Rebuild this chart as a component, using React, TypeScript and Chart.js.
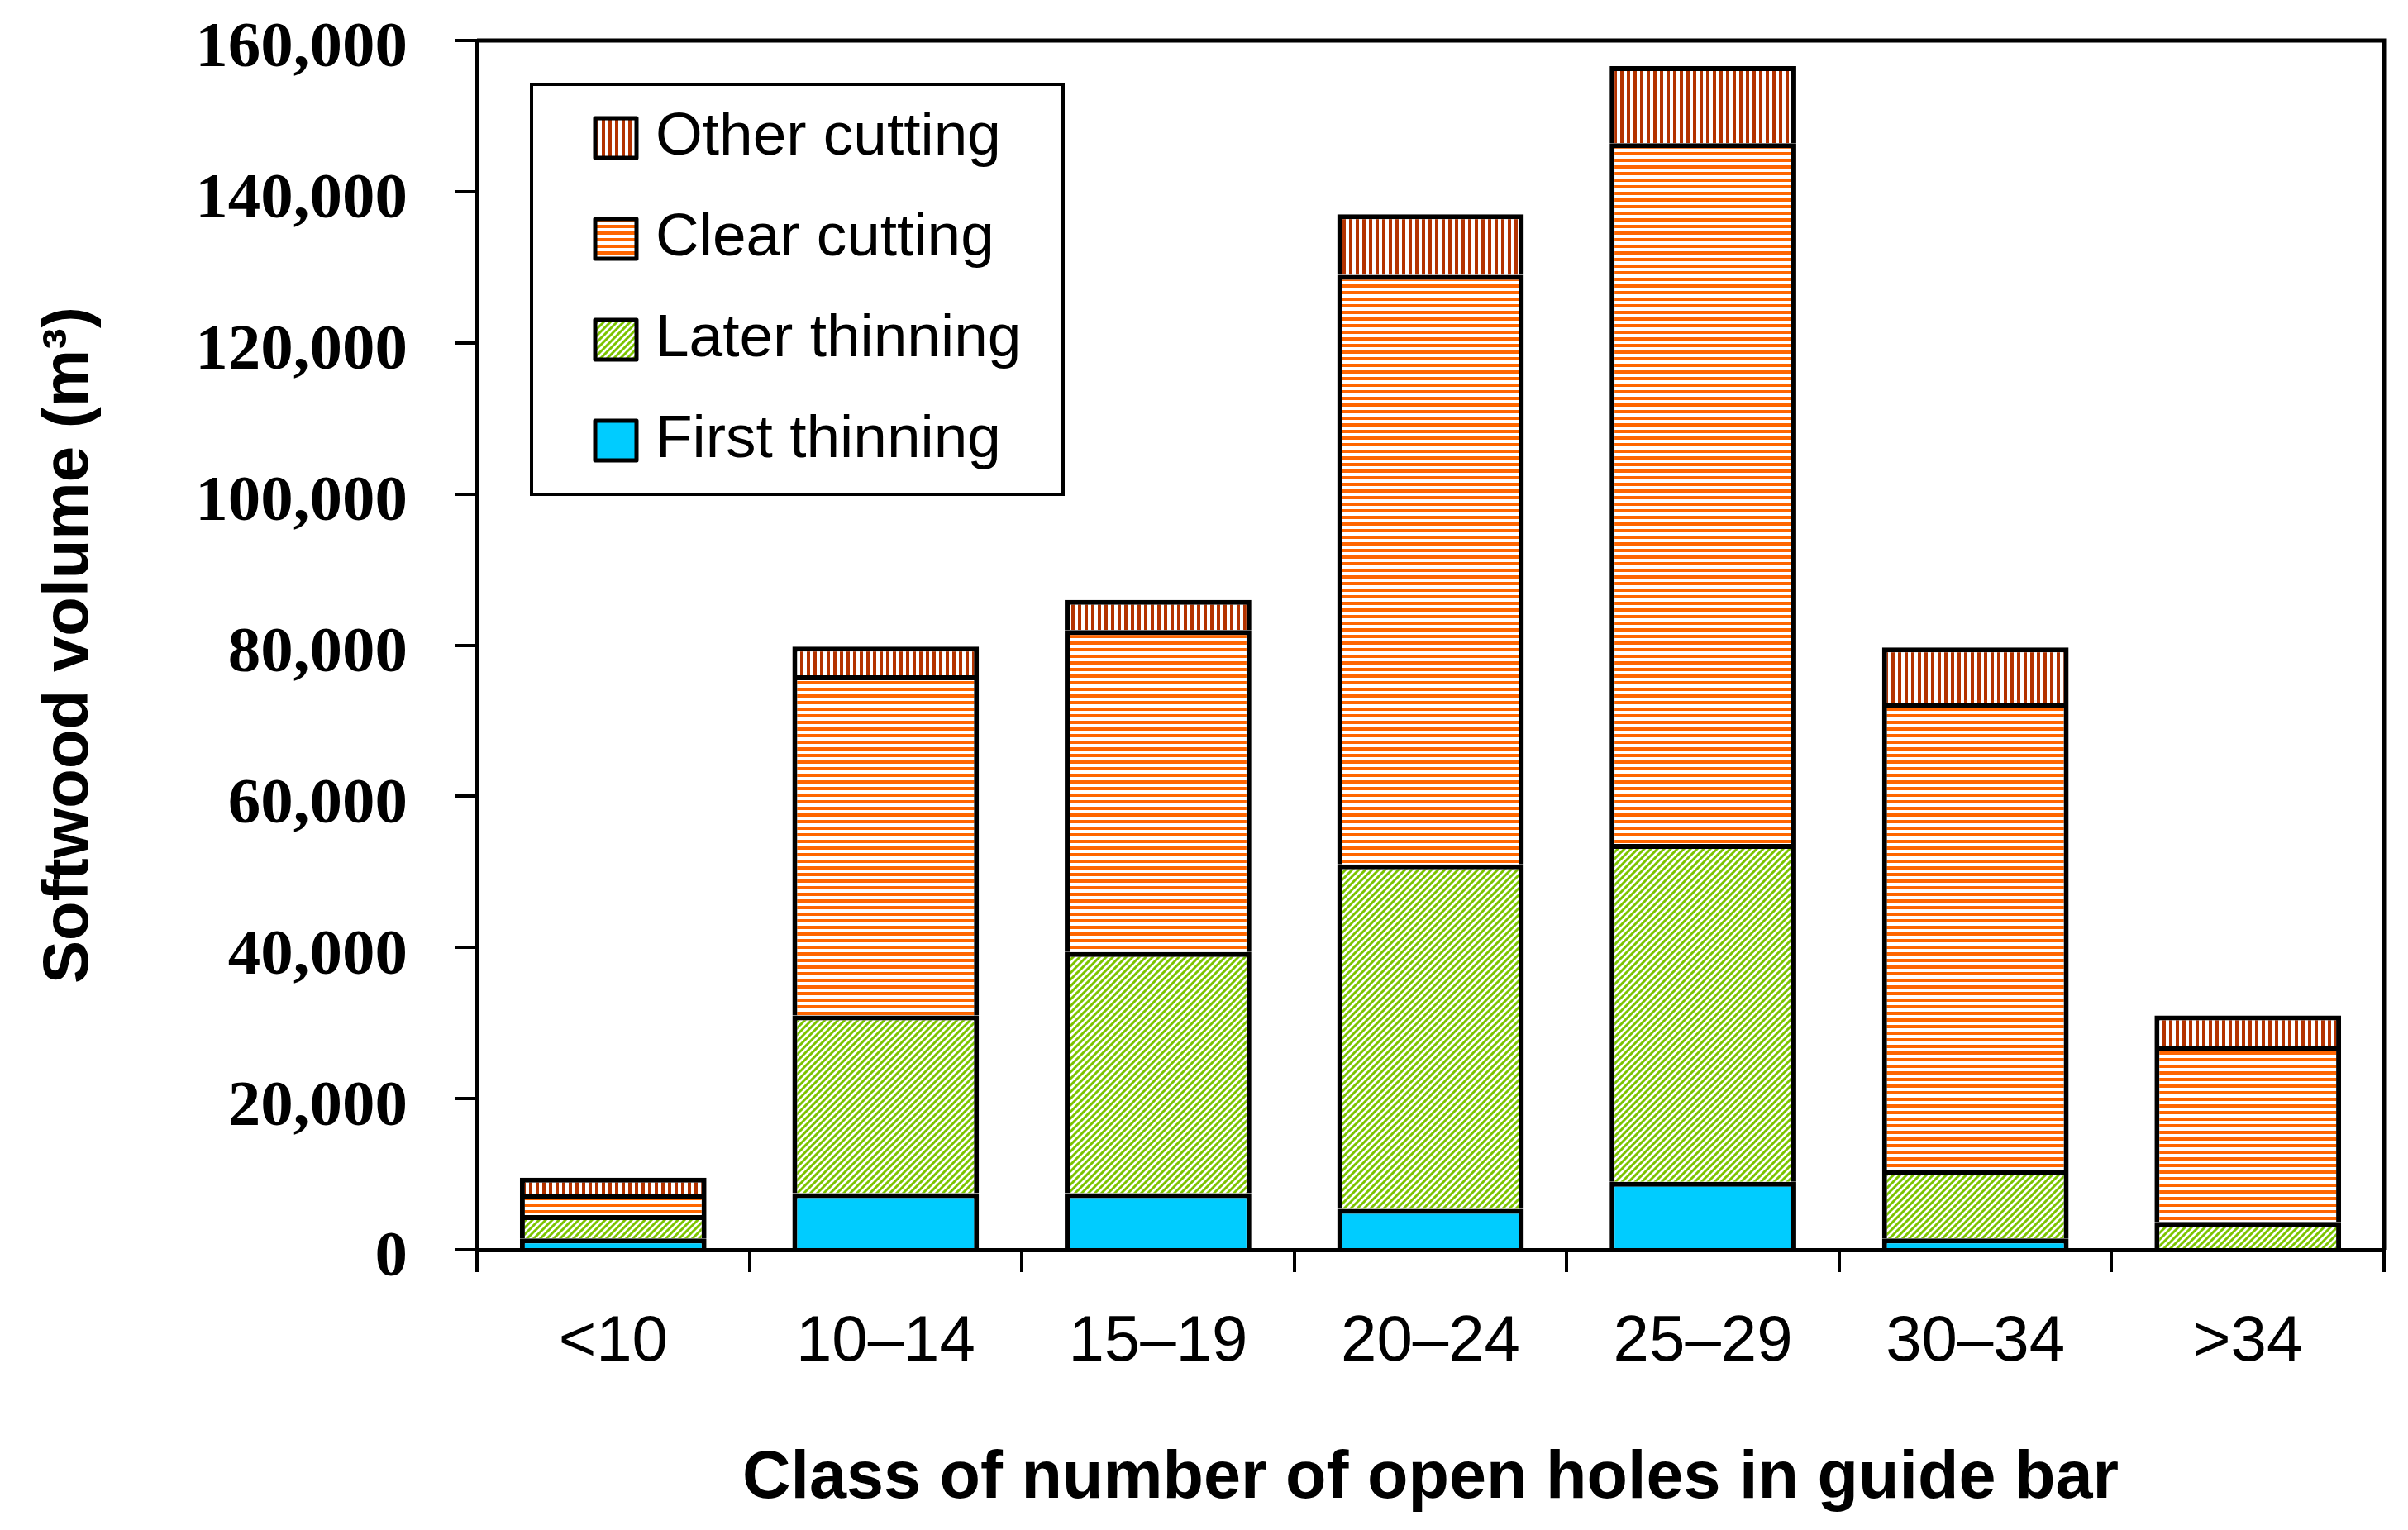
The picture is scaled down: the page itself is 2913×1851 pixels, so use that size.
import { useEffect, useRef } from 'react';
import { Chart, registerables } from 'chart.js';

Chart.register(...registerables);

const categories = ['<10', '10–14', '15–19', '20–24', '25–29', '30–34', '>34'];
const firstThinning = [1500, 7500, 7500, 5400, 9000, 1500, 0];
const laterThinning = [3100, 23500, 31900, 45600, 44700, 9000, 3700];
const clearCutting = [2850, 45000, 42600, 78000, 92700, 61800, 23300];
const otherCutting = [2100, 3800, 4000, 8000, 10200, 7400, 4000];
const yTickValues = [0, 20000, 40000, 60000, 80000, 100000, 120000, 140000, 160000];

const SANS = "'Liberation Sans', Arial, sans-serif";
const SERIF = "'Liberation Serif', 'Times New Roman', serif";

function makePattern(ctx: CanvasRenderingContext2D, draw: (c: CanvasRenderingContext2D) => void) {
  const tile = document.createElement('canvas');
  tile.width = 8;
  tile.height = 8;
  const c = tile.getContext('2d')!;
  c.fillStyle = '#ffffff';
  c.fillRect(0, 0, 8, 8);
  draw(c);
  return ctx.createPattern(tile, 'repeat')!;
}

const framePlugin = {
  id: 'frame',
  afterDraw(chart: any) {
    const { ctx, chartArea } = chart;
    const { left, top, right, bottom } = chartArea;
    ctx.save();
    ctx.strokeStyle = '#000';
    ctx.lineWidth = 5;
    ctx.beginPath();
    ctx.moveTo(left, top);
    ctx.lineTo(right, top);
    ctx.lineTo(right, bottom);
    ctx.stroke();
    ctx.restore();
  },
};

// legend drawn as a boxed panel inside the plot, top item = top of stack
const boxLegendPlugin = {
  id: 'boxLegend',
  afterDraw(chart: any) {
    const { ctx, chartArea } = chart;
    const bx = chartArea.left + 66;
    const by = chartArea.top + 53;
    ctx.save();
    ctx.lineWidth = 4;
    ctx.strokeStyle = '#000';
    ctx.strokeRect(bx, by, 643, 496);
    const sets = [...chart.data.datasets].reverse();
    ctx.font = `73px ${SANS}`;
    ctx.textBaseline = 'middle';
    ctx.textAlign = 'left';
    sets.forEach((ds: any, i: number) => {
      const cy = by + 65 + i * 122;
      ctx.fillStyle = ds.backgroundColor;
      ctx.fillRect(bx + 77, cy - 24, 50, 48);
      ctx.lineJoin = 'round';
      ctx.lineWidth = 5;
      ctx.strokeRect(bx + 77, cy - 24, 50, 48);
      ctx.fillStyle = '#000';
      ctx.fillText(ds.label, bx + 150, cy);
    });
    ctx.restore();
  },
};

export default function App() {
  const canvasRef = useRef<HTMLCanvasElement>(null);
  const chartRef = useRef<Chart | null>(null);

  useEffect(() => {
    if (!canvasRef.current) return;
    const ctx = canvasRef.current.getContext('2d');
    if (!ctx) return;

    const solidBlue = '#00CCFF';
    const greenDiag = makePattern(ctx, (c) => {
      c.strokeStyle = '#7CC400';
      c.lineWidth = 3;
      c.beginPath();
      c.moveTo(-2, 10);
      c.lineTo(10, -2);
      c.moveTo(-2, 2);
      c.lineTo(2, -2);
      c.moveTo(6, 10);
      c.lineTo(10, 6);
      c.stroke();
    });
    const orangeHoriz = makePattern(ctx, (c) => {
      c.fillStyle = '#FF6600';
      c.fillRect(0, 0, 8, 4);
    });
    const redVert = makePattern(ctx, (c) => {
      c.fillStyle = '#B33300';
      c.fillRect(0, 0, 4, 8);
    });

    const barStyle = { borderColor: '#000', borderWidth: 6, categoryPercentage: 1, barPercentage: 0.685 };

    chartRef.current = new Chart(ctx, {
      type: 'bar',
      data: {
        labels: categories,
        datasets: [
          { label: 'First thinning', data: firstThinning, backgroundColor: solidBlue, ...barStyle },
          { label: 'Later thinning', data: laterThinning, backgroundColor: greenDiag as any, ...barStyle },
          { label: 'Clear cutting', data: clearCutting, backgroundColor: orangeHoriz as any, ...barStyle },
          { label: 'Other cutting', data: otherCutting, backgroundColor: redVert as any, ...barStyle },
        ],
      },
      options: {
        animation: false,
        responsive: true,
        maintainAspectRatio: false,
        devicePixelRatio: 1,
        layout: { padding: { top: 49, right: 29, left: 0, bottom: 0 } },
        plugins: {
          legend: { display: false },
          tooltip: { enabled: false },
        },
        scales: {
          x: {
            stacked: true,
            grid: { drawOnChartArea: false, tickLength: 27, lineWidth: 4, color: '#000', offset: true },
            border: { display: true, color: '#000', width: 5 },
            ticks: {
              color: '#000',
              font: { family: SANS, size: 78, lineHeight: 1 },
              padding: 46,
              maxRotation: 0,
              autoSkip: false,
            },
            title: {
              display: true,
              text: 'Class of number of open holes in guide bar',
              color: '#000',
              font: { family: SANS, size: 81, weight: 'bold', lineHeight: 1 },
              padding: { top: 0, bottom: 21 },
            },
            afterFit: (s: any) => {
              s.height = 339;
              s.paddingLeft = 0;
              s.paddingRight = 0;
            },
          },
          y: {
            stacked: true,
            min: 0,
            max: 160000,
            afterBuildTicks: (s: any) => {
              s.ticks = yTickValues.map((v) => ({ value: v }));
            },
            ticks: {
              color: '#000',
              font: { family: SERIF, size: 79, weight: 'bold', lineHeight: 1 },
              padding: 57,
              labelOffset: 11,
              callback: (v: any) => Number(v).toLocaleString('en-US'),
            },
            grid: { drawOnChartArea: false, tickLength: 27, lineWidth: 4, color: '#000' },
            border: { display: true, color: '#000', width: 5 },
            title: {
              display: true,
              text: 'Softwood volume (m³)',
              color: '#000',
              font: { family: SANS, size: 78, weight: 'bold', lineHeight: 1 },
              padding: { top: 45, bottom: 0 },
            },
            afterFit: (s: any) => {
              s.width = 577;
              s.paddingTop = 0;
              s.paddingBottom = 0;
            },
          },
        },
      },
      plugins: [framePlugin, boxLegendPlugin],
    });

    return () => {
      chartRef.current?.destroy();
    };
  }, []);

  return (
    <div style={{ position: 'absolute', left: 0, top: 0, width: 2913, height: 1851, background: '#fff' }}>
      <canvas ref={canvasRef}></canvas>
    </div>
  );
}
